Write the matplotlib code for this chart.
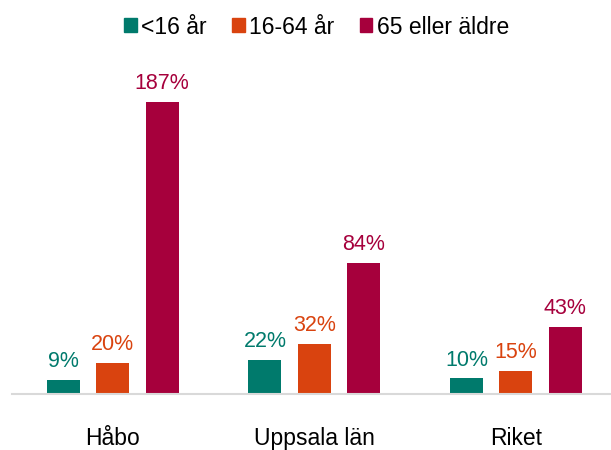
import matplotlib
matplotlib.use("Agg")
import matplotlib.pyplot as plt
import numpy as np
from matplotlib.patches import Patch

categories = ["Håbo", "Uppsala län", "Riket"]
series = ["<16 år", "16-64 år", "65 eller äldre"]
values_u16 = [9, 22, 10]
values_16_64 = [20, 32, 15]
values_65 = [187, 84, 43]
colors = ["#007A6C", "#D9430F", "#A6003C"]

plt.rcParams["font.family"] = ["Liberation Sans", "DejaVu Sans"]

fig = plt.figure(figsize=(6.11, 4.5), dpi=100)
ax = fig.add_axes([12 / 611, 56 / 450, 599 / 611, 334 / 450])

x = np.arange(len(categories))
width = 0.164
offset = 0.245
all_vals = [values_u16, values_16_64, values_65]
for i, (vals, col) in enumerate(zip(all_vals, colors)):
    pos = x + (i - 1) * offset
    ax.bar(pos, vals, width=width, color=col)
    for p, v in zip(pos, vals):
        ax.text(p, v + 5, f"{v}%", ha="center", va="bottom", color=col, fontsize=15.5)

ax.set_xlim(-0.5, 2.472)
ax.set_ylim(0, 334 / 1.5615)
ax.set_yticks([])
ax.set_xticks(x)
ax.set_xticklabels(categories, fontsize=16.5)
ax.tick_params(axis="x", length=0, pad=23.5)
for side in ["left", "right", "top"]:
    ax.spines[side].set_visible(False)
ax.spines["bottom"].set_color("#d9d9d9")
ax.spines["bottom"].set_linewidth(1.5)

handles = [Patch(color=c, label=s) for c, s in zip(colors, series)]
fig.legend(handles=handles, loc="center", bbox_to_anchor=(0.518, 0.94), ncol=3,
           frameon=False, fontsize=16.5, handlelength=0.55, handleheight=0.55,
           handletextpad=0.2, columnspacing=1.1)

fig.savefig("out.png", dpi=100)
